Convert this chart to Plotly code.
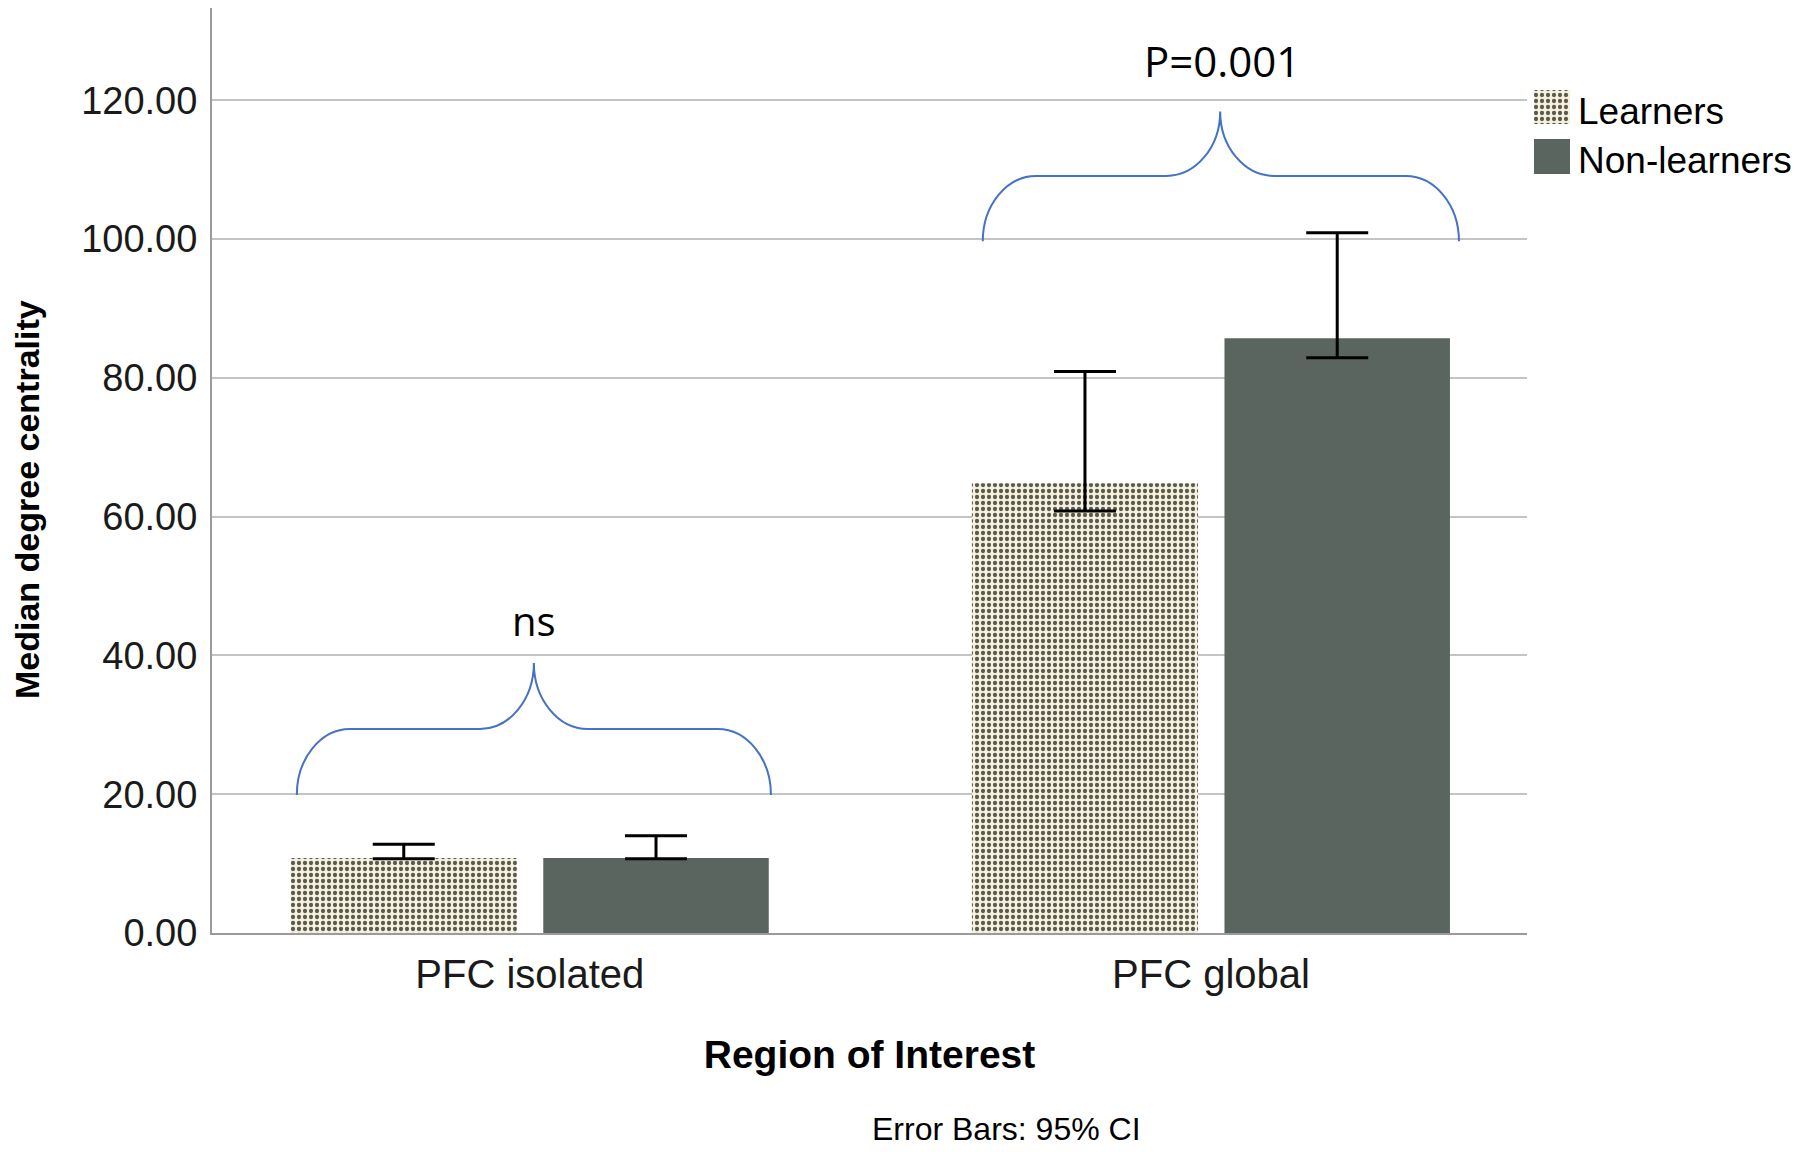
import plotly.graph_objects as go

# ---- data ----
categories = ["PFC isolated", "PFC global"]
learners_median = [10.8, 64.8]
learners_ci_low = [10.7, 60.8]
learners_ci_high = [12.8, 80.9]
nonlearners_median = [10.8, 85.7]
nonlearners_ci_low = [10.7, 82.9]
nonlearners_ci_high = [14.0, 100.9]
y_ticks = [0, 20, 40, 60, 80, 100, 120]
series_names = ["Learners", "Non-learners"]
annot_labels = ["ns", "P=0.001"]

LEARN_BG = "#f5f1de"
LEARN_FG = "#5a5a4e"
NONLEARN = "#5b655f"
BRACE = "#4472c4"
FONT = "Liberation Sans, Arial, sans-serif"

xpos = list(range(len(categories)))

fig = go.Figure()

fig.add_trace(go.Bar(
    x=xpos, y=learners_median, name=series_names[0],
    offset=-0.351, width=0.332,
    marker=dict(color=LEARN_BG, line=dict(width=0),
                pattern=dict(shape=".", bgcolor=LEARN_BG, fgcolor=LEARN_FG,
                             size=6, solidity=0.4, fillmode="replace")),
    error_y=dict(type="data", symmetric=False,
                 array=[h - m for h, m in zip(learners_ci_high, learners_median)],
                 arrayminus=[m - l for m, l in zip(learners_median, learners_ci_low)],
                 color="black", thickness=3, width=31),
    showlegend=False,
))
fig.add_trace(go.Bar(
    x=xpos, y=nonlearners_median, name=series_names[1],
    offset=0.0198, width=0.331,
    marker=dict(color=NONLEARN, line=dict(width=0)),
    error_y=dict(type="data", symmetric=False,
                 array=[h - m for h, m in zip(nonlearners_ci_high, nonlearners_median)],
                 arrayminus=[m - l for m, l in zip(nonlearners_median, nonlearners_ci_low)],
                 color="black", thickness=3, width=31),
    showlegend=False,
))

# ---- custom legend on pixel-like overlay axes ----
L, R_PLOT, T, B_PLOT = 212, 1527, 8, 933
W, H = 1800, 1152
plot_w = W - L
dom_end = (R_PLOT - L) / plot_w

def sw(x0, y0, x1, y1):
    return [x0, x1, x1, x0, x0], [y0, y0, y1, y1, y0]

sx, sy = sw(1534, 90, 1570, 124)
fig.add_trace(go.Scatter(
    x=sx, y=sy, xaxis="x2", yaxis="y2", mode="lines", fill="toself",
    line=dict(width=0, color=LEARN_BG), fillcolor=LEARN_BG,
    fillpattern=dict(shape=".", bgcolor=LEARN_BG, fgcolor=LEARN_FG,
                     size=6, solidity=0.4, fillmode="replace"),
    hoverinfo="skip", showlegend=False))
sx, sy = sw(1534, 139, 1570, 174)
fig.add_trace(go.Scatter(
    x=sx, y=sy, xaxis="x2", yaxis="y2", mode="lines", fill="toself",
    line=dict(width=0, color=NONLEARN), fillcolor=NONLEARN,
    hoverinfo="skip", showlegend=False))

def py2paper(py):
    return (B_PLOT - py) / (B_PLOT - T)

def px2paper(px):
    return (px - L) / plot_w

annotations = [
    dict(text=series_names[0], x=px2paper(1576), y=py2paper(112), xref="paper", yref="paper",
         xanchor="left", yanchor="middle", showarrow=False,
         font=dict(family=FONT, size=37, color="black")),
    dict(text=series_names[1], x=px2paper(1576), y=py2paper(160), xref="paper", yref="paper",
         xanchor="left", yanchor="middle", showarrow=False,
         font=dict(family=FONT, size=37, color="black")),
    dict(text="Error Bars: 95% CI", x=px2paper(1006), y=py2paper(1129), xref="paper", yref="paper",
         xanchor="center", yanchor="middle", showarrow=False,
         font=dict(family=FONT, size=32, color="black")),
    dict(text="<b>Median degree centrality</b>", x=px2paper(27), y=py2paper(500),
         xref="paper", yref="paper", textangle=-90,
         xanchor="center", yanchor="middle", showarrow=False,
         font=dict(family=FONT, size=34, color="black")),
    dict(text=annot_labels[0], x=0.006, y=45.1, xref="x", yref="y",
         xanchor="center", yanchor="middle", showarrow=False,
         font=dict(family="Open Sans, sans-serif", size=40, color="black")),
    dict(text=annot_labels[1], x=1.0165, y=125.8, xref="x", yref="y",
         xanchor="center", yanchor="middle", showarrow=False,
         font=dict(family="Open Sans, sans-serif", size=42, color="black")),
]

# ---- braces ----
def brace(x0, x1, xp, ye, yh, yp, cw, iw):
    k = 0.55
    xa = x0 + cw
    xb = xp - iw
    xc = xp + iw
    xd = x1 - cw
    return (f"M {x0},{ye} C {x0},{ye + k*(yh-ye)} {xa - k*cw},{yh} {xa},{yh} "
            f"L {xb},{yh} C {xb + k*iw},{yh} {xp},{yp - k*(yp-yh)} {xp},{yp} "
            f"C {xp},{yp - k*(yp-yh)} {xc - k*iw},{yh} {xc},{yh} "
            f"L {xd},{yh} C {xd + k*cw},{yh} {x1},{ye + k*(yh-ye)} {x1},{ye}")

shapes = [
    dict(type="path", xref="x", yref="y",
         path=brace(-0.342, 0.354, 0.006, 19.9, 29.4, 38.9, 0.078, 0.079),
         line=dict(color=BRACE, width=2)),
    dict(type="path", xref="x", yref="y",
         path=brace(0.665, 1.364, 1.0135, 99.7, 109.1, 118.4, 0.078, 0.079),
         line=dict(color=BRACE, width=2)),
]

fig.update_layout(
    width=W, height=H,
    margin=dict(l=L, r=0, t=T, b=H - B_PLOT),
    paper_bgcolor="white", plot_bgcolor="white",
    barmode="overlay",
    showlegend=False,
    annotations=annotations,
    shapes=shapes,
    xaxis=dict(domain=[0, dom_end], range=[-0.4665, 1.4639],
               tickmode="array", tickvals=xpos, ticktext=categories,
               showgrid=False, zeroline=False,
               showline=True, linecolor="#9a9a9a", linewidth=2,
               ticks="", ticklabelstandoff=5,
               tickfont=dict(family=FONT, size=40, color="#1a1a1a"),
               title=dict(text="<b>Region of Interest</b>", standoff=46,
                          font=dict(family=FONT, size=39, color="black"))),
    yaxis=dict(range=[0, 133.3], tickmode="array", tickvals=y_ticks,
               tickformat=".2f",
               showgrid=True, gridcolor="#c4c4c4", gridwidth=2,
               zeroline=False,
               showline=True, linecolor="#9a9a9a", linewidth=2,
               ticks="", ticklabelstandoff=5,
               tickfont=dict(family=FONT, size=38, color="#1a1a1a")),
    xaxis2=dict(domain=[dom_end, 1], range=[R_PLOT, W], visible=False,
                anchor="y2", fixedrange=True),
    yaxis2=dict(domain=[0, 1], range=[B_PLOT, T], visible=False,
                anchor="x2", fixedrange=True),
)

fig.write_html("out.html",
               config={"displayModeBar": False},
               post_script="document.body.style.margin='0';document.body.style.overflow='hidden';")
